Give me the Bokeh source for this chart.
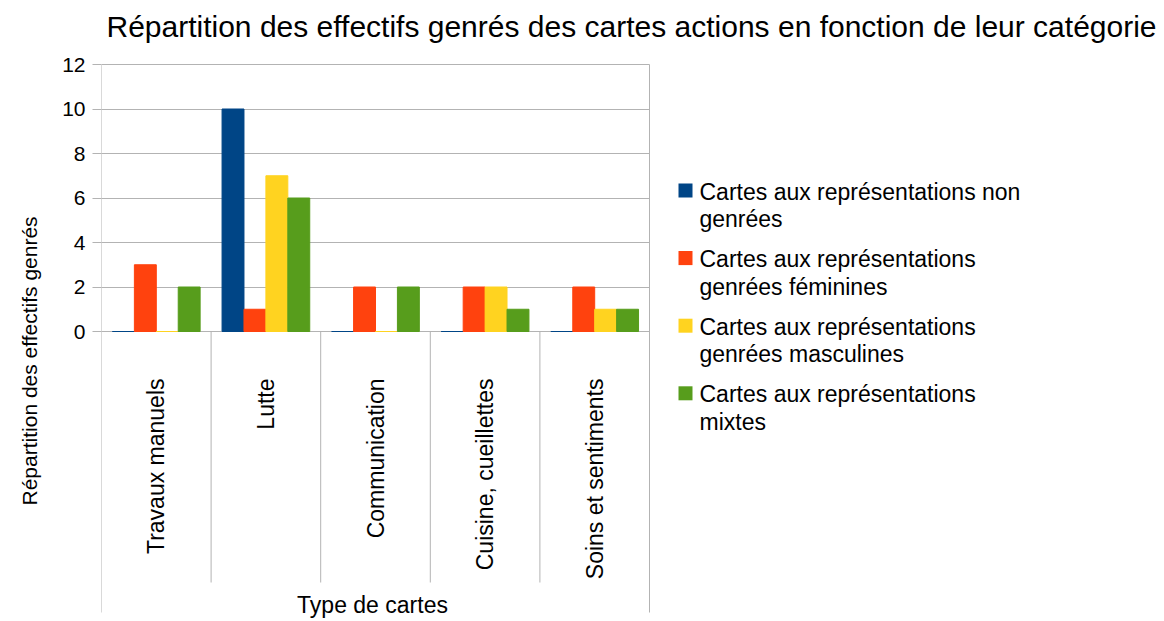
import math
from bokeh.plotting import figure
from bokeh.models import Range1d, FixedTicker, Label, Title, ColumnDataSource
from bokeh.core.properties import value
from bokeh.embed import file_html
from bokeh.resources import INLINE

# ---------------- data ----------------
title_text = "Répartition des effectifs genrés des cartes actions en fonction de leur catégorie"
categories = ["Travaux manuels", "Lutte", "Communication", "Cuisine, cueillettes", "Soins et sentiments"]
series_names = [
    ["Cartes aux représentations non", "genrées"],
    ["Cartes aux représentations", "genrées féminines"],
    ["Cartes aux représentations", "genrées masculines"],
    ["Cartes aux représentations", "mixtes"],
]
non_genrees = [0, 10, 0, 0, 0]
feminines = [3, 1, 2, 2, 2]
masculines = [0, 7, 0, 2, 1]
mixtes = [2, 6, 2, 1, 1]
y_ticks = [0, 2, 4, 6, 8, 10, 12]
y_title = "Répartition des effectifs genrés"
x_title = "Type de cartes"

series = [non_genrees, feminines, masculines, mixtes]
colors = ["#004586", "#ff420e", "#ffd320", "#579d1c"]

FONT = "Liberation Sans"
GRID = "#b3b3b3"

# ---------------- geometry (pixels) ----------------
W, H = 1164, 621
LEFT = 101                 # plot area left edge
PLOT_W = 548               # plot area width (5 categories)
Y0_PX, Y12_PX = 331, 64    # pixel rows of y=0 and y=12
n_cat = len(categories)
y_top_val = 12
px_per_cat = PLOT_W / n_cat
px_per_unit = (Y0_PX - Y12_PX) / y_top_val


def sx(px):  # picture x -> data x
    return (px - LEFT) / px_per_cat


def sy(py):  # picture y -> data y
    return y_top_val - (py - Y12_PX) / px_per_unit


FRAME_W = W - LEFT
FRAME_H = H
p = figure(frame_width=FRAME_W, frame_height=FRAME_H,
           min_border_left=LEFT, min_border_right=0,
           min_border_top=0, min_border_bottom=0,
           x_range=Range1d(sx(LEFT), sx(W)), y_range=Range1d(sy(H), sy(0)),
           x_axis_location=None, output_backend="svg", toolbar_location=None,
           background_fill_color="white", border_fill_color="white")
p.outline_line_color = None
p.xgrid.visible = False

# y axis (library axis, limited to 0..12)
p.yaxis.ticker = FixedTicker(ticks=y_ticks)
p.yaxis.bounds = (0, y_top_val)
p.yaxis.axis_line_color = None
p.yaxis.major_tick_in = 0
p.yaxis.major_tick_out = 9
p.yaxis.major_tick_line_color = GRID
p.yaxis.minor_tick_line_color = None
p.yaxis.major_label_standoff = 7
p.yaxis.major_label_text_font = FONT
p.yaxis.major_label_text_font_size = "21px"
p.yaxis.major_label_text_color = "black"

# horizontal grid lines, limited to the plot area
grid = p.ygrid[0]
if "cross_bounds" in grid.properties():
    grid.ticker = FixedTicker(ticks=y_ticks)
    grid.bounds = (0, y_top_val)
    grid.cross_bounds = (0, n_cat)
    grid.grid_line_color = GRID
else:
    grid.visible = False
    p.segment(x0=[0] * len(y_ticks), x1=[n_cat] * len(y_ticks), y0=y_ticks, y1=y_ticks,
              line_color=GRID, line_width=1)

# plot-area side lines and category separators
p.segment(x0=[0, n_cat], x1=[0, n_cat], y0=[y_top_val, y_top_val], y1=[sy(612), sy(612)],
          line_color=GRID, line_width=1)
seps = list(range(1, n_cat))
p.segment(x0=seps, x1=seps, y0=[0] * len(seps), y1=[sy(582)] * len(seps),
          line_color=GRID, line_width=1)

# bars
offsets = [-0.3, -0.1, 0.1, 0.3]
for vals, col, off in zip(series, colors, offsets):
    src = ColumnDataSource(dict(x=[i + 0.5 + off for i in range(n_cat)], top=vals))
    p.vbar(x="x", top="top", bottom=0, width=0.2, source=src,
           fill_color=col, line_color=col, line_width=1)

# category labels (rotated)
cat_src = ColumnDataSource(dict(x=[i + 0.5 for i in range(n_cat)], y=[sy(378)] * n_cat, t=categories))
p.text(x="x", y="y", text="t", source=cat_src, angle=math.pi / 2,
       text_align="right", text_baseline="middle",
       text_font=value(FONT), text_font_size="23px", text_color="black")

# main title and x title
p.add_layout(Label(x=sx(631), y=sy(26), text=title_text, text_align="center",
                   text_baseline="alphabetic", text_font=FONT, text_font_size="30px",
                   text_color="black"))
p.add_layout(Label(x=sx(372), y=sy(604), text=x_title, text_align="center",
                   text_baseline="alphabetic", text_font=FONT, text_font_size="23px",
                   text_color="black"))

# y title in the left panel
p.add_layout(Title(text=y_title, align="left", offset=H - 505, standoff=33,
                   vertical_align="top",
                   text_font=FONT, text_font_size="21px", text_font_style="normal",
                   text_color="black"), "left")

# legend (drawn manually so the square aligns with the first text line)
leg_sq_x, leg_sq_y0, leg_step = 685, 190, 67.6
leg_text_x, leg_base0, leg_line = 699, 191, 27.5
p.rect(x=[sx(leg_sq_x)] * len(colors), y=[sy(leg_sq_y0 + k * leg_step) for k in range(len(colors))],
       width=14, height=14, width_units="screen", height_units="screen",
       fill_color=colors, line_color=None)
lx, ly, lt = [], [], []
for k, lines in enumerate(series_names):
    for j, line in enumerate(lines):
        lx.append(sx(leg_text_x))
        ly.append(sy(leg_base0 + k * leg_step + j * leg_line))
        lt.append(line)
p.text(x=lx, y=ly, text=lt, text_align="left", text_baseline="alphabetic",
       text_font=value(FONT), text_font_size="23px", text_color="black")

open("out.html", "w").write(file_html(p, INLINE))
